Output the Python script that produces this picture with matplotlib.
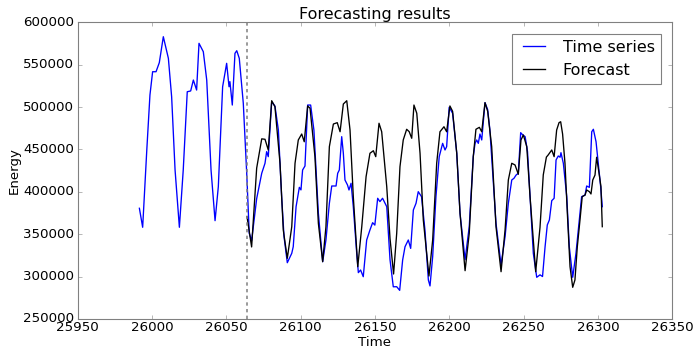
import matplotlib
matplotlib.use("Agg")
import matplotlib.pyplot as plt

plt.style.use("classic")

ts_x = [25991.5, 25993.7, 25996.5, 25998.6, 26000.4, 26002.7, 26004.9, 26007.6, 26011.0, 26013.2,
        26015.5, 26018.4, 26021.0, 26023.7, 26026.0, 26027.8, 26030.0, 26031.6, 26034.5, 26036.8,
        26039.7, 26042.4, 26044.6, 26047.5, 26050.2, 26051.8, 26052.4, 26054.0, 26055.8, 26057.0,
        26058.7, 26061.4, 26063.7, 26065.4, 26067.0, 26070.4, 26073.8, 26076.0, 26077.1, 26078.2,
        26080.5, 26082.7, 26085.0, 26087.2, 26088.8, 26091.0, 26094.0, 26095.0, 26096.9, 26099.1,
        26100.2, 26101.3, 26102.9, 26104.7, 26106.7, 26108.9, 26111.9, 26114.8, 26117.0, 26119.3,
        26120.9, 26123.8, 26124.9, 26126.0, 26127.6, 26128.7, 26129.8, 26131.5, 26132.5, 26133.9,
        26135.4, 26137.7, 26138.8, 26140.3, 26142.1, 26144.4, 26146.6, 26148.4, 26149.9, 26151.8,
        26153.3, 26155.1, 26157.9, 26160.1, 26162.3, 26164.6, 26166.6, 26168.6, 26170.2, 26172.4,
        26174.0, 26175.8, 26177.6, 26179.1, 26181.3, 26183.6, 26185.9, 26187.0, 26188.8, 26191.0,
        26193.2, 26195.5, 26197.1, 26198.2, 26199.9, 26202.2, 26205.0, 26207.2, 26210.6, 26213.4,
        26216.1, 26217.3, 26218.4, 26219.5, 26220.6, 26221.8, 26224.0, 26225.8, 26227.3, 26231.4,
        26234.8, 26237.5, 26239.7, 26242.0, 26243.5, 26244.9, 26246.4, 26248.0, 26249.4, 26251.0,
        26252.6, 26254.3, 26256.5, 26258.8, 26261.0, 26262.7, 26264.4, 26265.9, 26267.3, 26268.9,
        26270.5, 26271.8, 26273.3, 26274.5, 26275.1, 26276.7, 26279.0, 26280.7, 26283.0, 26285.2,
        26287.4, 26289.0, 26291.3, 26292.4, 26294.2, 26295.8, 26296.9, 26298.7, 26300.9, 26301.8,
        26302.9]
ts_y = [380600, 358200, 450000, 514200, 541700, 541700, 552400, 583000, 557500, 512000,
        425800, 358200, 425800, 518100, 519000, 531900, 520100, 575200, 565300, 531900,
        425800, 366000, 406100, 524000, 551600, 524000, 530000, 502400, 563400, 566500,
        557500, 504400, 421900, 351100, 342400, 392000, 421900, 433700, 447400, 441500,
        506300, 501200, 472900, 394300, 347100, 316400, 327500, 335300, 382500, 405300,
        402300, 425800, 430500, 502400, 502400, 472900, 374700, 317600, 343200, 386500,
        406900, 406900, 421900, 425800, 465100, 445500, 414000, 408100, 402200, 410100,
        382500, 327500, 304700, 307800, 299900, 343200, 355000, 363600, 360800, 392400,
        388500, 392400, 382500, 320000, 288000, 288100, 283800, 319600, 335300, 343200,
        333300, 378600, 386500, 400200, 394300, 355000, 296000, 289000, 323600, 394300,
        441500, 457200, 449400, 453300, 499700, 492700, 445500, 374700, 320000, 358900,
        441500, 457200, 461200, 457200, 468200, 461200, 505200, 497000, 472900, 362900,
        313700, 347100, 386500, 414000, 416000, 419800, 421900, 469800, 467100, 465100,
        447400, 394300, 327500, 299200, 302100, 300100, 335000, 360900, 366800, 389600,
        392400, 437600, 442300, 440800, 446200, 433700, 394300, 335300, 299200, 327500,
        366800, 394300, 396200, 406900, 405300, 470900, 473800, 459100, 421900, 406100,
        382500]

fc_x = [26063.9, 26067.0, 26070.4, 26073.8, 26076.0, 26078.2, 26080.5, 26082.7, 26086.1, 26088.3,
        26091.0, 26094.0, 26096.2, 26098.4, 26100.7, 26102.4, 26104.7, 26106.3, 26109.6, 26111.9,
        26114.8, 26117.0, 26119.3, 26122.0, 26124.6, 26126.5, 26128.7, 26131.0, 26133.2, 26135.4,
        26138.4, 26141.1, 26144.0, 26146.6, 26148.9, 26150.5, 26152.7, 26154.5, 26157.9, 26160.1,
        26162.5, 26164.6, 26166.8, 26169.0, 26171.3, 26173.0, 26174.7, 26176.2, 26178.1, 26180.3,
        26182.5, 26186.3, 26188.8, 26191.5, 26193.7, 26196.4, 26198.2, 26200.4, 26202.2, 26205.0,
        26207.2, 26210.6, 26213.4, 26216.1, 26217.9, 26220.2, 26221.8, 26224.0, 26225.8, 26228.5,
        26231.4, 26234.8, 26237.5, 26239.7, 26242.0, 26244.2, 26245.4, 26246.4, 26248.2, 26249.8,
        26252.1, 26254.3, 26258.1, 26261.0, 26263.2, 26265.3, 26266.5, 26268.9, 26270.5, 26272.2,
        26273.8, 26274.9, 26276.2, 26277.8, 26279.4, 26281.2, 26283.0, 26284.5, 26286.1, 26287.9,
        26289.4, 26291.3, 26292.4, 26294.2, 26295.3, 26296.5, 26298.0, 26299.1, 26300.9, 26302.0,
        26302.9]
fc_y = [370700, 335000, 428000, 462500, 462000, 449400, 507500, 500400, 433700, 355000,
        321600, 358900, 433700, 461200, 468200, 459100, 501300, 498600, 441500, 362900,
        317600, 358900, 453300, 480000, 481600, 470900, 503600, 507500, 472900, 394300,
        311700, 358900, 417900, 445500, 448500, 441500, 480900, 470900, 406100, 345000,
        303100, 351100, 429700, 461200, 473800, 471000, 463200, 502400, 492700, 445500,
        366800, 300700, 343200, 433700, 470900, 476800, 470900, 501300, 495000, 445500,
        374700, 307000, 351100, 441500, 473800, 476100, 470900, 505200, 495000, 453300,
        358900, 305800, 355000, 414000, 433700, 431700, 425800, 420700, 461200, 467100,
        453300, 394300, 305800, 358000, 420000, 441000, 443500, 449400, 441500, 472900,
        481600, 482700, 468200, 433700, 374700, 311700, 287400, 296000, 335300, 366800,
        394300, 396200, 402200, 400200, 397500, 414000, 419800, 440800, 419800, 406100,
        358900]

split_x = 26064

fig = plt.figure(figsize=(697 / 80, 351 / 80), dpi=80, facecolor="white")
ax = fig.add_axes([77.7 / 697, 32 / 351, 594.6 / 697, 296.7 / 351])
ax.plot(ts_x, ts_y, color="blue", linewidth=1.2, label="Time series")
ax.plot(fc_x, fc_y, color="black", linewidth=1.2, label="Forecast")
ax.axvline(split_x, color="gray", linestyle=(0, (3.0, 3.0)), linewidth=1.4)
ax.set_xlim(25950, 26350)
ax.set_ylim(250000, 600000)
ax.set_title("Forecasting results", fontsize=14.4, pad=3)
ax.set_xlabel("Time", fontsize=12, labelpad=2)
ax.set_ylabel("Energy", fontsize=12, labelpad=2)
ax.tick_params(labelsize=12, color="#808080")
ax.tick_params(axis="x", pad=2)
ax.tick_params(axis="y", pad=3)
for s in ax.spines.values():
    s.set_edgecolor("#808080")
ax.ticklabel_format(useOffset=False, style="plain")
leg = ax.legend(loc="upper right", fontsize=14.4, fancybox=False, framealpha=1,
                borderaxespad=0.7)
leg.get_frame().set_edgecolor("#808080")
fig.savefig("out.png", dpi=80, facecolor="white")
